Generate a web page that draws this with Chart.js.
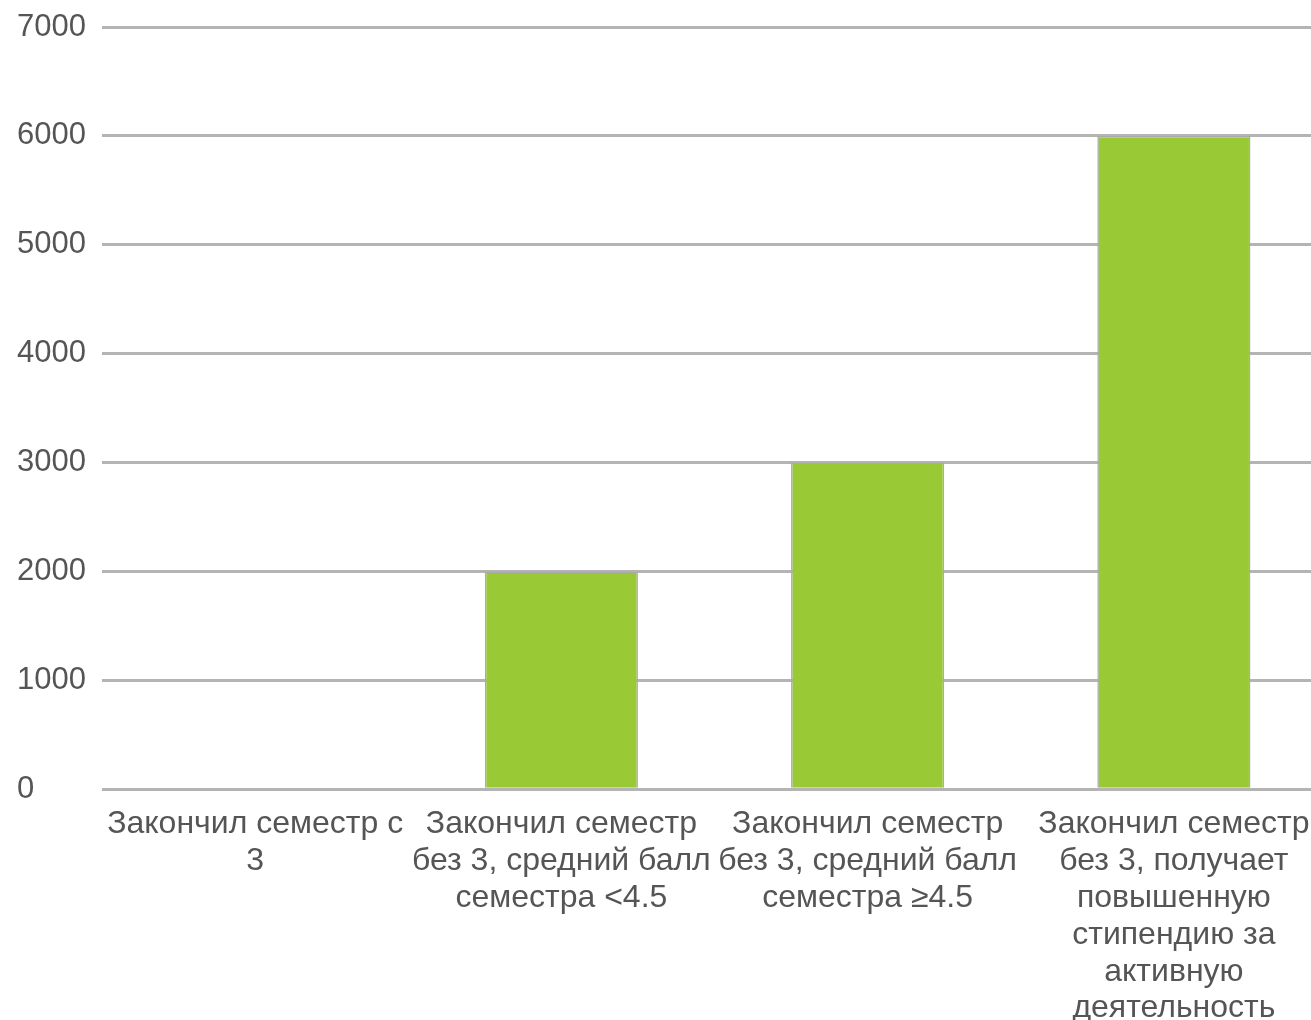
<!DOCTYPE html>
<html>
<head>
<meta charset="utf-8">
<script src="https://cdn.jsdelivr.net/npm/chart.js@4"></script>
<style>
html,body{margin:0;padding:0;background:#fff;overflow:hidden;}
#wrap{position:absolute;left:0;top:0;width:1330px;height:1044px;}
</style>
</head>
<body>
<div id="wrap"><canvas id="c" width="1330" height="1044"></canvas></div>
<script>
const categories = [
  ["Закончил семестр с", "3"],
  ["Закончил семестр", "без 3, средний балл", "семестра <4.5"],
  ["Закончил семестр", "без 3, средний балл", "семестра ≥4.5"],
  ["Закончил семестр", "без 3, получает", "повышенную", "стипендию за", "активную", "деятельность"]
];
const values = [0, 2000, 3000, 6000];
const yTicks = [0, 1000, 2000, 3000, 4000, 5000, 6000, 7000];

new Chart(document.getElementById('c'), {
  type: 'bar',
  data: {
    labels: categories,
    datasets: [{
      data: values,
      backgroundColor: '#99c935',
      borderColor: '#aaaaaa',
      borderWidth: 1.5,
      barPercentage: 0.5,
      categoryPercentage: 1.0
    }]
  },
  options: {
    responsive: false,
    devicePixelRatio: 1,
    animation: false,
    layout: { padding: { left: 17, right: 3, top: 27, bottom: 0 } },
    plugins: { legend: { display: false }, tooltip: { enabled: false } },
    scales: {
      x: {
        grid: { display: false, drawTicks: false },
        border: { display: false },
        afterFit: (axis) => { axis.paddingLeft = 0; axis.paddingRight = 0; },
        ticks: {
          color: '#555555',
          font: { family: 'Liberation Sans, Arial, sans-serif', size: 32, lineHeight: 1.15 },
          padding: 17,
          maxRotation: 0,
          autoSkip: false
        }
      },
      y: {
        min: 0,
        max: 7000,
        afterBuildTicks: (axis) => { axis.ticks = yTicks.map(v => ({ value: v })); },
        afterFit: (axis) => { axis.width = 85; axis.paddingTop = 0; axis.paddingBottom = 0; },
        grid: { color: '#b4b4b4', lineWidth: 3, drawTicks: false },
        border: { display: false },
        ticks: {
          color: '#555555',
          font: { family: 'Liberation Sans, Arial, sans-serif', size: 31 },
          crossAlign: 'far',
          padding: 15,
          callback: (v) => String(v)
        }
      }
    }
  }
});
</script>
</body>
</html>
